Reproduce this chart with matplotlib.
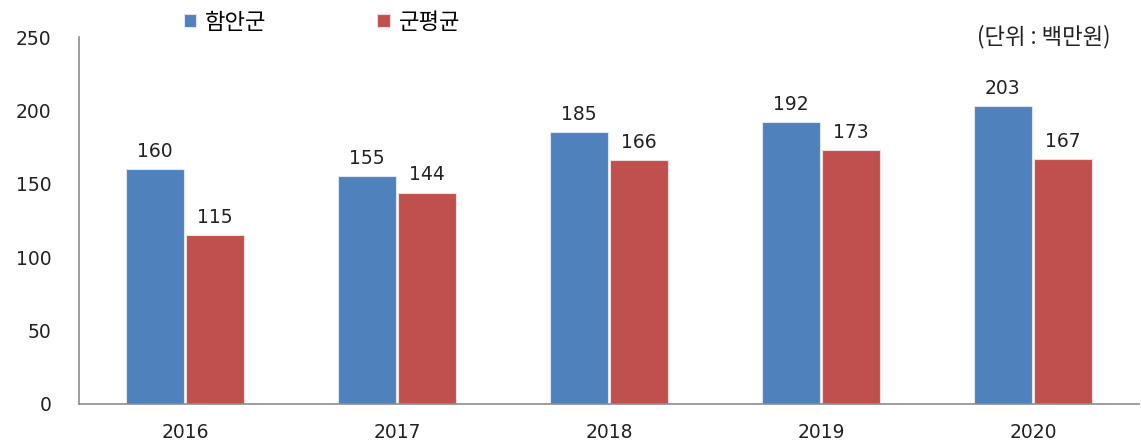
import matplotlib
matplotlib.use("Agg")
import matplotlib.pyplot as plt
import numpy as np

# ---------------------------------------
# Data
# ---------------------------------------
years = ["2016", "2017", "2018", "2019", "2020"]
haman = [160, 155, 185, 192, 203]
county_avg = [115, 144, 166, 173, 167]
series_names = ["함안군", "군평균"]

BLUE = "#4F81BD"
RED = "#C0504D"
TEXT = "#222222"

plt.rcParams["font.family"] = ["DejaVu Sans", "Noto Sans CJK KR"]

fig = plt.figure(figsize=(11.41, 4.41), dpi=100)
ax = fig.add_axes([0.0692, 0.084, 0.929, 0.832])

x = np.arange(len(years))
width = 0.275
gap = 0.005

bars1 = ax.bar(x - width / 2 - gap, haman, width, color=BLUE,
               edgecolor="#DCE6F2", linewidth=0.8, label=series_names[0])
bars2 = ax.bar(x + width / 2 + gap, county_avg, width, color=RED,
               edgecolor="#F2DCDB", linewidth=0.8, label=series_names[1])

for bars in (bars1, bars2):
    for b in bars:
        ax.annotate(f"{b.get_height():.0f}",
                    (b.get_x() + b.get_width() / 2, b.get_height()),
                    xytext=(0, 6), textcoords="offset points",
                    ha="center", va="bottom", fontsize=13.5, color=TEXT)

ax.set_xlim(-0.5, len(years) - 0.5)
ax.set_ylim(0, 250)
ax.set_yticks(np.arange(0, 251, 50))
ax.set_xticks(x)
ax.set_xticklabels(years)
ax.tick_params(axis="both", length=0, labelsize=13.5, colors=TEXT)
ax.tick_params(axis="y", pad=20)
ax.tick_params(axis="x", pad=14)

for side in ("top", "right"):
    ax.spines[side].set_visible(False)
for side in ("left", "bottom"):
    ax.spines[side].set_color("#8C8C8C")
    ax.spines[side].set_linewidth(1.2)

ax.legend(loc="center left", bbox_to_anchor=(0.161, 0.95),
          bbox_transform=fig.transFigure, borderaxespad=0, borderpad=0,
          ncol=2, frameon=False,
          handlelength=0.55, handleheight=0.55, handletextpad=0.4,
          columnspacing=5.0, prop={"family": "Noto Sans CJK KR", "size": 16})

fig.text(0.973, 0.918, "(단위 : 백만원)", ha="right", va="center",
         fontsize=16, family=["Noto Sans CJK KR"], color=TEXT)

fig.savefig("out.png", dpi=100, facecolor="white")
